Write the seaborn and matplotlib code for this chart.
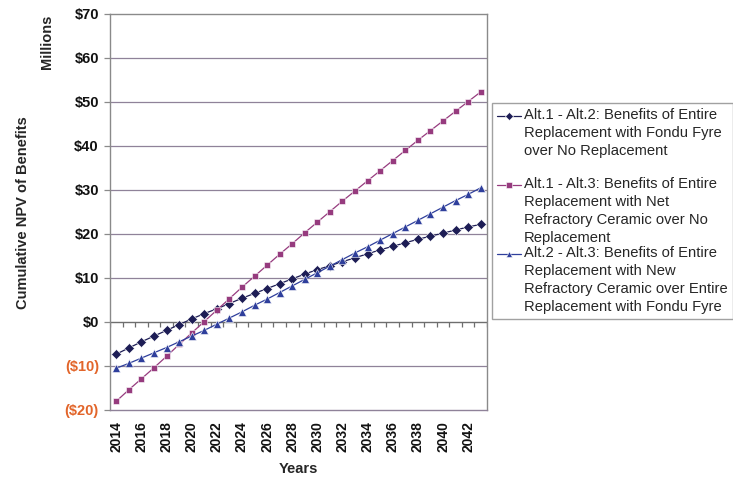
import numpy as np
import pandas as pd
import matplotlib
matplotlib.use("Agg")
import matplotlib.pyplot as plt
import seaborn as sns
from matplotlib.legend_handler import HandlerLine2D

# Cumulative NPV of benefits, $ millions, by year
years = list(range(2014, 2044))
alt1_alt2 = [-7.3, -5.9, -4.5, -3.2, -1.9, -0.6, 0.7, 1.9, 3.0, 4.2,
             5.4, 6.5, 7.6, 8.7, 9.8, 10.9, 11.9, 12.8, 13.7, 14.6,
             15.5, 16.4, 17.2, 18.0, 18.8, 19.5, 20.2, 20.9, 21.6, 22.2]
alt1_alt3 = [-18.0, -15.4, -12.9, -10.4, -7.8, -5.1, -2.5, 0.1, 2.7, 5.3,
             7.9, 10.4, 12.9, 15.4, 17.8, 20.3, 22.7, 25.1, 27.5, 29.8,
             32.1, 34.4, 36.7, 39.0, 41.3, 43.5, 45.7, 47.9, 50.1, 52.3]
alt2_alt3 = [-10.5, -9.4, -8.2, -7.0, -5.8, -4.5, -3.2, -1.9, -0.5, 0.9,
             2.3, 3.8, 5.2, 6.7, 8.2, 9.7, 11.2, 12.7, 14.2, 15.7,
             17.1, 18.6, 20.1, 21.6, 23.1, 24.6, 26.1, 27.6, 29.0, 30.5]

series_labels = [
    "Alt.1 - Alt.2: Benefits of Entire\nReplacement with Fondu Fyre\nover No Replacement\n",
    "Alt.1 - Alt.3: Benefits of Entire\nReplacement with Net\nRefractory Ceramic over No\nReplacement",
    "Alt.2 - Alt.3: Benefits of Entire\nReplacement with New\nRefractory Ceramic over Entire\nReplacement with Fondu Fyre",
]
series_colors = ["#1d1d55", "#963b7e", "#2f3f9c"]
series_markers = ["D", "s", "^"]
marker_sizes = {"D": 5.2, "s": 5.0, "^": 6.2}

y_ticks = [-20, -10, 0, 10, 20, 30, 40, 50, 60, 70]
y_tick_labels = ["($20)", "($10)", "$0", "$10", "$20", "$30", "$40", "$50", "$60", "$70"]
x_tick_years = years[::2]

df = pd.DataFrame({
    "Year": years * 3,
    "NPV": alt1_alt2 + alt1_alt3 + alt2_alt3,
    "Series": [series_labels[0]] * len(years)
              + [series_labels[1]] * len(years)
              + [series_labels[2]] * len(years),
})

sns.set_theme(style="white")
plt.rcParams["font.family"] = ["Liberation Sans", "DejaVu Sans"]

fig = plt.figure(figsize=(7.33, 4.80), dpi=100)
ax = fig.add_axes([110 / 733, 1 - 410 / 480, 377 / 733, 396 / 480])

sns.lineplot(data=df, x="Year", y="NPV", hue="Series", style="Series",
             palette=series_colors, markers=series_markers, dashes=False,
             linewidth=0.9, markersize=5, markeredgewidth=0.4, ax=ax)

for ln in ax.lines:
    m = ln.get_marker()
    if m in marker_sizes:
        ln.set_markersize(marker_sizes[m])

ax.set_xlim(years[0] - 0.5, years[-1] + 0.5)
ax.set_ylim(y_ticks[0], y_ticks[-1])

# horizontal gridlines
grid_color = "#8f8299"
for yv in y_ticks[1:-1]:
    if yv != 0:
        ax.axhline(yv, color=grid_color, lw=0.9, zorder=0)

# category axis at $0 with tick marks between years
ax.axhline(0, color="#6e6e6e", lw=1.0, zorder=1)
bounds = np.arange(len(years) + 1) + years[0] - 0.5
ax.vlines(bounds, -1.1, 0, color="#6e6e6e", lw=0.9, zorder=1)

for s in ax.spines.values():
    s.set_color("#8a8a8a")
    s.set_linewidth(1.0)
ax.spines["bottom"].set_color(grid_color)

ax.set_yticks(y_ticks)
ax.set_yticklabels(y_tick_labels, fontsize=10.5, fontweight="bold")
for lbl, yv in zip(ax.get_yticklabels(), y_ticks):
    lbl.set_color("#e2652a" if yv < 0 else "#111111")
ax.tick_params(axis="y", length=4, width=0.9, color="#8a8a8a", pad=4, left=True)

ax.set_xticks(x_tick_years)
ax.set_xticklabels([str(y) for y in x_tick_years], rotation=90,
                   fontsize=10, fontweight="bold", color="#111111")
ax.tick_params(axis="x", length=0, pad=8)

ax.set_xlabel("Years", fontsize=10.5, fontweight="bold", labelpad=7)
ax.set_ylabel("")
fig.text(23 / 733, 1 - 213 / 480, "Cumulative NPV of Benefits", rotation=90,
         ha="center", va="center", fontsize=10.5, fontweight="bold")
fig.text(47 / 733, 1 - 42 / 480, "Millions", rotation=90,
         ha="center", va="center", fontsize=10.5, fontweight="bold")


class FirstLineHandler(HandlerLine2D):
    """Places the legend key level with the first line of its label."""

    def __init__(self, lift, **kw):
        super().__init__(**kw)
        self.lift = lift

    def create_artists(self, legend, orig_handle, xdescent, ydescent,
                       width, height, fontsize, trans):
        artists = super().create_artists(legend, orig_handle, xdescent, ydescent,
                                         width, height, fontsize, trans)
        for a in artists:
            a.set_ydata(np.asarray(a.get_ydata(), dtype=float) + self.lift)
        return artists


handles, labels = ax.get_legend_handles_labels()
ax.get_legend().remove()
fs = 10.6
line_advance_pt = 12.4
handler_map = {}
for h, lab in zip(handles, labels):
    n = lab.count("\n") + 1
    h.set_markersize(4)
    handler_map[h] = FirstLineHandler(lift=(n - 1) / 2 * line_advance_pt)

leg = fig.legend(handles, labels, loc="upper left",
                 bbox_to_anchor=(492 / 733, 1 - 103 / 480),
                 bbox_transform=fig.transFigure, fontsize=fs,
                 frameon=True, fancybox=False, edgecolor="#8a8a8a",
                 handlelength=1.6, handletextpad=0.2, labelspacing=0.1,
                 borderpad=0.35, borderaxespad=0, handler_map=handler_map)
for t in leg.get_texts():
    t.set_linespacing(1.35)
leg.get_frame().set_linewidth(1.0)

fig.savefig("out.png", dpi=100)
